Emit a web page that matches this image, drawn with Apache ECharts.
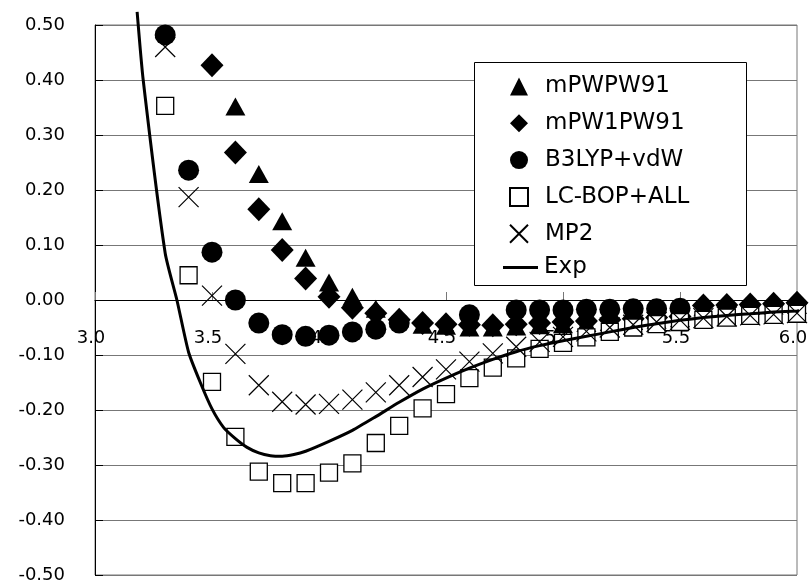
<!DOCTYPE html>
<html>
<head>
<meta charset="utf-8">
<script src="https://cdn.jsdelivr.net/npm/echarts@6/dist/echarts.min.js"></script>
<style>
html,body{margin:0;padding:0;background:#fff;}
#chart{width:810px;height:584px;}
</style>
</head>
<body>
<div id="chart"></div>
<script>
// ---- data ----
var seriesNames = ['mPWPW91', 'mPW1PW91', 'B3LYP+vdW', 'LC-BOP+ALL', 'MP2', 'Exp'];

var mPWPW91 = [
  [3.6, 0.352], [3.7, 0.229], [3.8, 0.143], [3.9, 0.077], [4.0, 0.032], [4.1, 0.006],
  [4.2, -0.016], [4.3, -0.033], [4.4, -0.045], [4.5, -0.047], [4.6, -0.050], [4.7, -0.050],
  [4.8, -0.048], [4.9, -0.046], [5.0, -0.044], [5.1, -0.042], [5.2, -0.040], [5.3, -0.038],
  [5.4, -0.036], [5.5, -0.033], [5.6, -0.013], [5.7, -0.012], [5.8, -0.011], [5.9, -0.010], [6.0, -0.009]
];
var mPW1PW91 = [
  [3.5, 0.427], [3.6, 0.268], [3.7, 0.165], [3.8, 0.091], [3.9, 0.039], [4.0, 0.006],
  [4.1, -0.014], [4.2, -0.024], [4.3, -0.036], [4.4, -0.042], [4.5, -0.044], [4.6, -0.045],
  [4.7, -0.046], [4.8, -0.044], [4.9, -0.042], [5.0, -0.040], [5.1, -0.038], [5.2, -0.036],
  [5.3, -0.034], [5.4, -0.032], [5.5, -0.030], [5.6, -0.010], [5.7, -0.009], [5.8, -0.008], [5.9, -0.007], [6.0, -0.005]
];
var b3lypVdw = [
  [3.3, 0.482], [3.4, 0.236], [3.5, 0.087], [3.6, 0.000], [3.7, -0.042], [3.8, -0.063],
  [3.9, -0.066], [4.0, -0.064], [4.1, -0.058], [4.2, -0.053], [4.3, -0.042], [4.6, -0.027],
  [4.8, -0.018], [4.9, -0.018], [5.0, -0.018], [5.1, -0.017], [5.2, -0.017], [5.3, -0.016],
  [5.4, -0.016], [5.5, -0.015]
];
var lcBopAll = [
  [3.3, 0.353], [3.4, 0.045], [3.5, -0.149], [3.6, -0.249], [3.7, -0.312], [3.8, -0.333],
  [3.9, -0.333], [4.0, -0.314], [4.1, -0.297], [4.2, -0.260], [4.3, -0.229], [4.4, -0.197],
  [4.5, -0.171], [4.6, -0.142], [4.7, -0.123], [4.8, -0.106], [4.9, -0.089], [5.0, -0.078],
  [5.1, -0.068], [5.2, -0.058], [5.3, -0.050], [5.4, -0.044], [5.5, -0.040], [5.6, -0.036],
  [5.7, -0.032], [5.8, -0.029], [5.9, -0.027], [6.0, -0.025]
];
var mp2 = [
  [3.3, 0.460], [3.4, 0.187], [3.5, 0.008], [3.6, -0.098], [3.7, -0.155], [3.8, -0.185],
  [3.9, -0.190], [4.0, -0.189], [4.1, -0.181], [4.2, -0.168], [4.3, -0.155], [4.4, -0.140],
  [4.5, -0.126], [4.6, -0.112], [4.7, -0.097], [4.8, -0.085], [4.9, -0.076], [5.0, -0.067],
  [5.1, -0.057], [5.2, -0.050], [5.3, -0.045], [5.4, -0.040], [5.5, -0.036], [5.6, -0.033],
  [5.7, -0.030], [5.8, -0.028], [5.9, -0.026], [6.0, -0.024]
];
var expCurve = [
  [3.18, 0.524], [3.206, 0.400], [3.30, 0.085], [3.35, 0.000], [3.40, -0.095], [3.45, -0.150],
  [3.50, -0.198], [3.55, -0.232], [3.60, -0.252], [3.65, -0.268], [3.70, -0.278], [3.75, -0.283],
  [3.80, -0.284], [3.85, -0.281], [3.90, -0.275], [4.00, -0.257], [4.10, -0.237], [4.20, -0.212],
  [4.30, -0.186], [4.40, -0.162], [4.50, -0.142], [4.60, -0.124], [4.70, -0.108], [4.80, -0.094],
  [4.90, -0.083], [5.00, -0.074], [5.10, -0.066], [5.20, -0.058], [5.30, -0.050], [5.40, -0.043],
  [5.50, -0.037], [5.60, -0.032], [5.70, -0.028], [5.80, -0.025], [5.90, -0.022], [6.00, -0.020],
  [6.10, -0.017]
];

var xMin = 3.0, xMax = 6.0, xStep = 0.5;
var yMin = -0.5, yMax = 0.5, yStep = 0.1;

// ---- chart ----
var FONT = 'DejaVu Sans';
var GRID_TOP = 25, GRID_BOTTOM = 9, PLOT_H = 584 - GRID_TOP - GRID_BOTTOM;
var chart = echarts.init(document.getElementById('chart'), null, {renderer: 'canvas'});

function scatter(name, data, symbol, size, style) {
  style.opacity = 1;
  return {
    name: name, type: 'scatter', data: data, symbol: symbol, symbolSize: size,
    clip: false, itemStyle: style, emphasis: {disabled: true}
  };
}

var legendText = {fontSize: 23, fontFamily: FONT, color: '#000', lineHeight: 18};

var option = {
  animation: false,
  backgroundColor: '#fff',
  grid: {left: 95, right: 13, top: GRID_TOP, bottom: GRID_BOTTOM, show: true,
    borderColor: '#777', borderWidth: 1, outerBoundsMode: 'none', containLabel: false},
  xAxis: {
    type: 'value', min: xMin, max: xMax, interval: xStep, position: 'bottom',
    // place the axis on y = 0
    offset: -PLOT_H * (0 - yMin) / (yMax - yMin),
    axisLine: {onZero: false, lineStyle: {color: '#000', width: 1}},
    axisTick: {show: true, inside: true, length: 8, lineStyle: {color: '#777'}},
    splitLine: {show: false},
    axisLabel: {
      margin: 29, color: '#000', fontSize: 18, fontFamily: FONT, padding: [0, 8, 0, 0],
      formatter: function (v) { return v.toFixed(1); }
    }
  },
  yAxis: {
    type: 'value', min: yMin, max: yMax, interval: yStep,
    axisLine: {show: true, lineStyle: {color: '#000', width: 1}},
    axisTick: {show: true, inside: true, length: 8, lineStyle: {color: '#000'}},
    splitLine: {show: true, lineStyle: {color: '#777', width: 1}},
    axisLabel: {
      margin: 30, color: '#000', fontSize: 18, fontFamily: FONT,
      formatter: function (v) { return v.toFixed(2); }
    }
  },
  graphic: [{
    type: 'rect', z: 50, silent: true,
    shape: {x: 474.5, y: 62.5, width: 272, height: 223},
    style: {fill: '#fff', stroke: '#000', lineWidth: 1}
  }],
  legend: [{
    z: 60, orient: 'vertical', left: 509, top: 75, padding: 0,
    itemWidth: 18, itemHeight: 18, itemGap: 13.8, selectedMode: false,
    textStyle: Object.assign({padding: [0, 0, 0, 12]}, legendText),
    data: seriesNames.slice(0, 5)
  }, {
    z: 60, orient: 'vertical', left: 503, top: 256, padding: 0,
    itemWidth: 35, itemHeight: 18, selectedMode: false,
    textStyle: Object.assign({padding: [0, 0, 0, 1]}, legendText),
    data: [{name: seriesNames[5], icon: 'path://M0,0L35,0L35,3L0,3Z'}]
  }],
  series: [
    scatter(seriesNames[0], mPWPW91, 'triangle', [20, 18], {color: '#000'}),
    scatter(seriesNames[1], mPW1PW91, 'diamond', [23, 24], {color: '#000'}),
    scatter(seriesNames[2], b3lypVdw, 'circle', 21, {color: '#000'}),
    scatter(seriesNames[3], lcBopAll, 'rect', 17, {color: '#fff', borderColor: '#000', borderWidth: 1.3}),
    scatter(seriesNames[4], mp2, 'path://M0,0L20,20M20,0L0,20', 20,
      {color: 'rgba(0,0,0,0)', borderColor: '#000', borderWidth: 1.2}),
    {
      name: seriesNames[5], type: 'line', data: expCurve, symbol: 'none', showSymbol: false,
      clip: false, smooth: 0.2, lineStyle: {color: '#000', width: 3}, itemStyle: {color: '#000'},
      emphasis: {disabled: true}
    }
  ]
};
chart.setOption(option);
</script>
</body>
</html>
